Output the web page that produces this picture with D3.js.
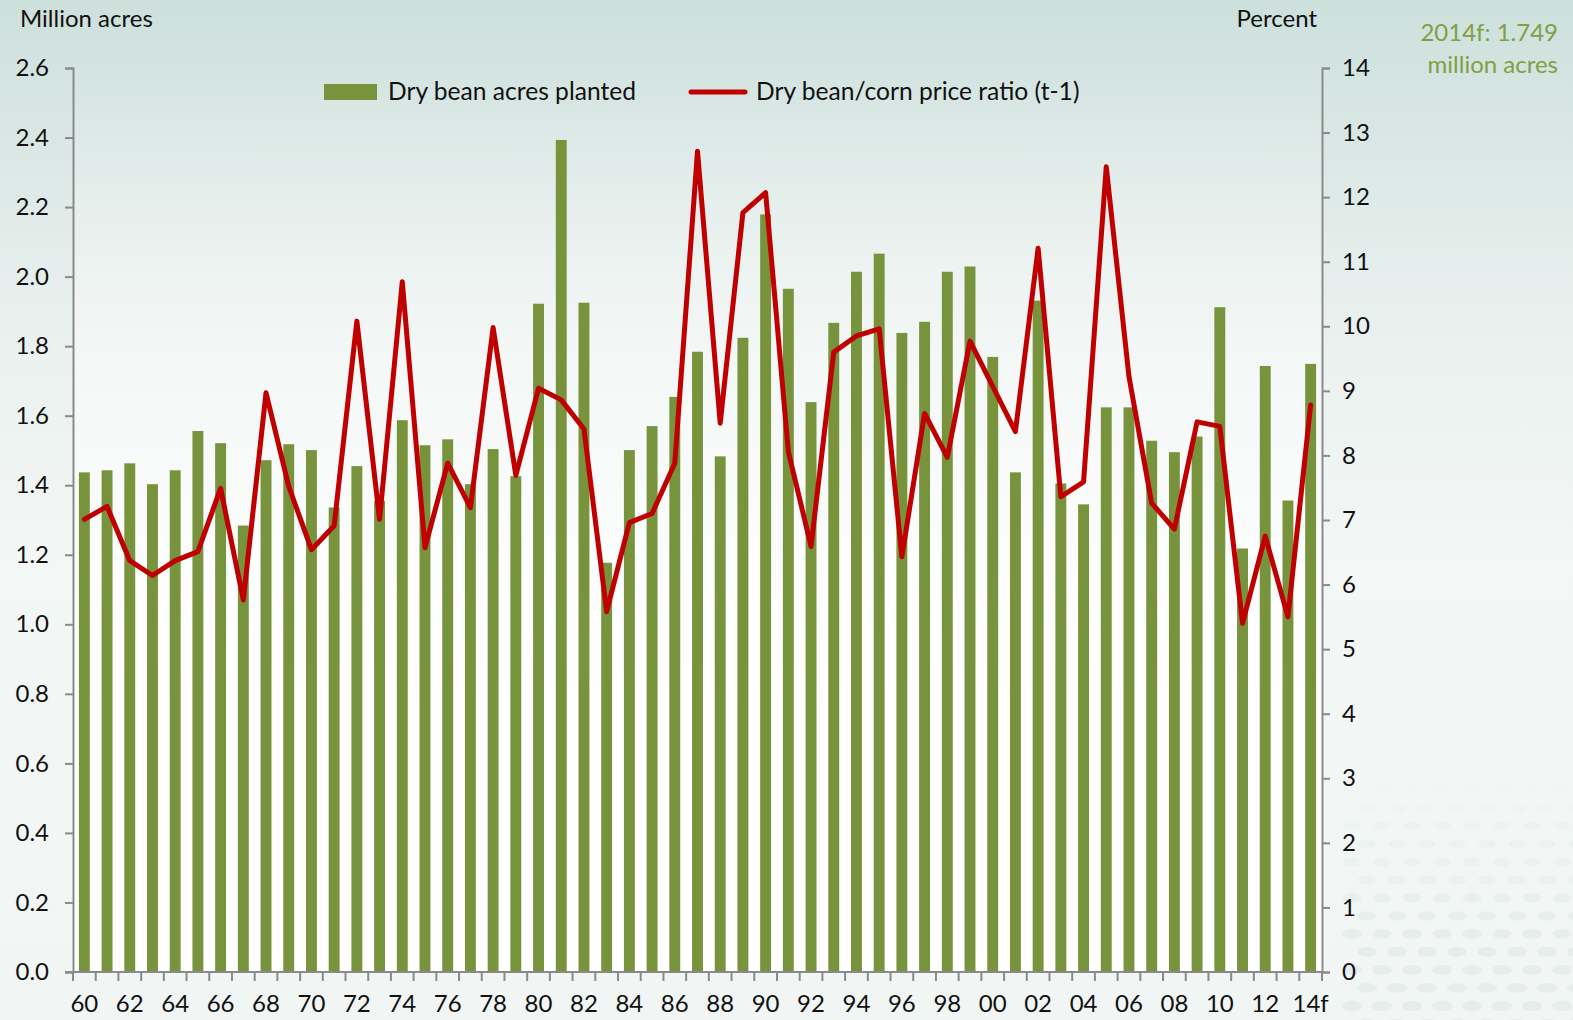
<!DOCTYPE html>
<html>
<head>
<meta charset="utf-8">
<script src="https://cdn.jsdelivr.net/npm/d3@7"></script>
<style>
  html, body { margin: 0; padding: 0; }
  body { width: 1573px; height: 1020px; overflow: hidden; }
  text { font-family: Lato, "Open Sans", sans-serif; fill: #111; }
</style>
</head>
<body>
<div id="chart"></div>
<script>
// Years 1960..2014 (2014 is forecast)
const years = d3.range(1960, 2015);
const tickLabels = ['60','62','64','66','68','70','72','74','76','78','80','82','84','86','88','90',
  '92','94','96','98','00','02','04','06','08','10','12','14f'];

// Dry bean acres planted, million acres
const acres = [
  1.437, 1.443, 1.463, 1.403, 1.443, 1.556, 1.521, 1.284, 1.472, 1.518,
  1.501, 1.336, 1.455, 1.355, 1.587, 1.515, 1.532, 1.403, 1.504, 1.426,
  1.922, 2.393, 1.925, 1.177, 1.501, 1.570, 1.654, 1.784, 1.483, 1.824,
  2.179, 1.965, 1.639, 1.867, 2.014, 2.066, 1.838, 1.870, 2.014, 2.029,
  1.769, 1.437, 1.931, 1.405, 1.345, 1.624, 1.624, 1.528, 1.495, 1.540,
  1.912, 1.218, 1.743, 1.356, 1.749
];

// Dry bean/corn price ratio (t-1), percent
const ratio = [
  7.01, 7.21, 6.37, 6.14, 6.37, 6.51, 7.49, 5.76, 8.97, 7.52,
  6.54, 6.91, 10.08, 7.01, 10.69, 6.57, 7.88, 7.19, 9.98, 7.69,
  9.04, 8.86, 8.41, 5.58, 6.96, 7.10, 7.88, 12.71, 8.50, 11.76,
  12.07, 8.06, 6.59, 9.60, 9.85, 9.96, 6.43, 8.65, 7.97, 9.77,
  9.07, 8.37, 11.21, 7.36, 7.59, 12.47, 9.22, 7.26, 6.86, 8.52,
  8.45, 5.40, 6.75, 5.50, 8.78
];

const leftTicks = d3.range(0, 2.61, 0.2);
const rightTicks = d3.range(0, 15, 1);

const W = 1573, H = 1020;
const plot = { left: 73, right: 1322, top: 68, bottom: 972 };
const FS = 24;

const svg = d3.select('#chart').append('svg')
  .attr('width', W).attr('height', H);

// background wash
const defs = svg.append('defs');
const grad = defs.append('linearGradient')
  .attr('id', 'bg').attr('x1', 0).attr('y1', 0).attr('x2', 0).attr('y2', 1);
grad.append('stop').attr('offset', '0%').attr('stop-color', '#cde0dc');
grad.append('stop').attr('offset', '30%').attr('stop-color', '#e8f0ee');
grad.append('stop').attr('offset', '55%').attr('stop-color', '#f3f7f6');
grad.append('stop').attr('offset', '100%').attr('stop-color', '#f1f6f5');
svg.append('rect').attr('width', W).attr('height', H).attr('fill', 'url(#bg)');

// plot area fades to white toward the bottom
const pgrad = defs.append('linearGradient')
  .attr('id', 'pbg').attr('x1', 0).attr('y1', 0).attr('x2', 0).attr('y2', 1);
pgrad.append('stop').attr('offset', '0%').attr('stop-color', '#fff').attr('stop-opacity', 0);
pgrad.append('stop').attr('offset', '45%').attr('stop-color', '#fff').attr('stop-opacity', 0.6);
pgrad.append('stop').attr('offset', '70%').attr('stop-color', '#fff').attr('stop-opacity', 1);
svg.append('rect')
  .attr('x', plot.left).attr('y', plot.top)
  .attr('width', plot.right - plot.left).attr('height', plot.bottom - plot.top)
  .attr('fill', 'url(#pbg)');

// faint dot pattern, lower right corner
const dots = svg.append('g').attr('fill', '#e5eeec');
for (let r = 0; r < 14; r++) {
  for (let c = 0; c < 8; c++) {
    const cx = 1352 + c * 30 + (r % 2) * 15;
    const cy = 790 + r * 18;
    dots.append('ellipse').attr('cx', cx).attr('cy', cy)
      .attr('rx', 8 + r * 0.2).attr('ry', 4 + r * 0.1)
      .attr('opacity', Math.min(1, (r + 1) / 9));
  }
}

// scales
const x = d3.scaleBand()
  .domain(years)
  .range([plot.left, plot.right])
  .paddingInner(0.52)
  .paddingOuter(0.26);
const yL = d3.scaleLinear().domain([0, 2.6]).range([plot.bottom, plot.top]);
const yR = d3.scaleLinear().domain([0, 14]).range([plot.bottom, plot.top]);

// bars
svg.append('g').selectAll('rect')
  .data(acres)
  .join('rect')
    .attr('x', (d, i) => x(years[i]))
    .attr('width', x.bandwidth())
    .attr('y', d => yL(d))
    .attr('height', d => yL(0) - yL(d))
    .attr('fill', '#77933c');

// axes
const axisColor = '#8a8a8a';
function styleAxis(g) {
  g.select('.domain').attr('stroke', axisColor).attr('stroke-width', 2);
  g.selectAll('.tick line').attr('stroke', axisColor).attr('stroke-width', 2);
  g.selectAll('.tick text').attr('font-size', FS).attr('fill', '#111')
    .attr('font-family', 'Lato, "Open Sans", sans-serif');
}

const gL = svg.append('g')
  .attr('transform', `translate(${plot.left},0)`)
  .call(d3.axisLeft(yL).tickValues(leftTicks).tickFormat(d3.format('.1f'))
    .tickSizeInner(8).tickSizeOuter(8).tickPadding(16));
styleAxis(gL);

const gR = svg.append('g')
  .attr('transform', `translate(${plot.right},0)`)
  .call(d3.axisRight(yR).tickValues(rightTicks).tickFormat(d3.format('d'))
    .tickSizeInner(8).tickSizeOuter(8).tickPadding(12));
styleAxis(gR);

// x axis: tick marks at band edges, labels every other year
const edge = d3.scaleLinear().domain([0, years.length]).range([plot.left, plot.right]);
const gX = svg.append('g').attr('transform', `translate(0,${plot.bottom})`);
gX.append('line')
  .attr('x1', plot.left - 8).attr('x2', plot.right)
  .attr('stroke', axisColor).attr('stroke-width', 2);
gX.selectAll('line.tk')
  .data(d3.range(0, years.length + 1))
  .join('line').attr('class', 'tk')
    .attr('x1', d => edge(d)).attr('x2', d => edge(d))
    .attr('y1', 0).attr('y2', 9)
    .attr('stroke', axisColor).attr('stroke-width', 2);
gX.selectAll('text')
  .data(tickLabels)
  .join('text')
    .attr('x', (d, i) => x(years[i * 2]) + x.bandwidth() / 2)
    .attr('y', 40)
    .attr('text-anchor', 'middle')
    .attr('font-size', FS)
    .text(d => d);

// price ratio line
const line = d3.line()
  .x((d, i) => x(years[i]) + x.bandwidth() / 2)
  .y(d => yR(d));
svg.append('path')
  .datum(ratio)
  .attr('d', line)
  .attr('fill', 'none')
  .attr('stroke', '#c00000')
  .attr('stroke-width', 5)
  .attr('stroke-linejoin', 'round')
  .attr('stroke-linecap', 'round');

// axis titles
svg.append('text').attr('x', 20).attr('y', 27).attr('font-size', FS).text('Million acres');
svg.append('text').attr('x', 1317).attr('y', 27).attr('font-size', FS)
  .attr('text-anchor', 'end').text('Percent');

// forecast note
const note = svg.append('text').attr('font-size', FS).attr('fill', '#7f9f45')
  .attr('text-anchor', 'end');
note.append('tspan').attr('x', 1558).attr('y', 41).attr('fill', '#7f9f45').text('2014f: 1.749');
note.append('tspan').attr('x', 1558).attr('y', 73).attr('fill', '#7f9f45').text('million acres');

// legend
const lg = svg.append('g');
lg.append('rect').attr('x', 324).attr('y', 84).attr('width', 53).attr('height', 16)
  .attr('fill', '#77933c');
lg.append('text').attr('x', 388).attr('y', 100).attr('font-size', 24.6).text('Dry bean acres planted');
lg.append('line').attr('x1', 691).attr('x2', 745).attr('y1', 92).attr('y2', 92)
  .attr('stroke', '#c00000').attr('stroke-width', 5).attr('stroke-linecap', 'round');
lg.append('text').attr('x', 756).attr('y', 100).attr('font-size', 24.6)
  .text('Dry bean/corn price ratio (t-1)');
</script>
</body>
</html>
